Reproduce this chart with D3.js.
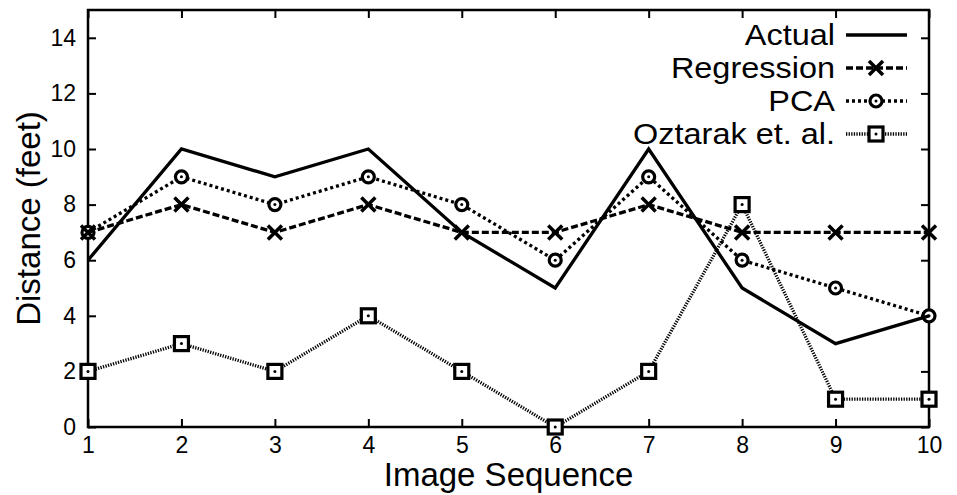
<!DOCTYPE html>
<html>
<head>
<meta charset="utf-8">
<script src="https://cdn.jsdelivr.net/npm/d3@7"></script>
<style>
  html, body { margin: 0; padding: 0; background: #fff; }
  svg { display: block; font-family: "Liberation Sans", Arial, sans-serif; }
</style>
</head>
<body>
<svg id="chart" width="957" height="495"></svg>
<script>
// Distance estimates per image in the sequence
const frames = [1, 2, 3, 4, 5, 6, 7, 8, 9, 10];
const actual = [6, 10, 9, 10, 7, 5, 10, 5, 3, 4];
const regression = [7, 8, 7, 8, 7, 7, 8, 7, 7, 7];
const pca = [7, 9, 8, 9, 8, 6, 9, 6, 5, 4];
const oztarak = [2, 3, 2, 4, 2, 0, 2, 8, 1, 1];
const yTicks = [0, 2, 4, 6, 8, 10, 12, 14];
const seriesNames = ["Actual", "Regression", "PCA", "Oztarak et. al."];

const series = [
  { name: seriesNames[0], values: actual, dash: null, marker: null },
  { name: seriesNames[1], values: regression, dash: "7,3", marker: "cross" },
  { name: seriesNames[2], values: pca, dash: "3,3", marker: "circle" },
  { name: seriesNames[3], values: oztarak, dash: "1.3,1.3", marker: "square" }
];

const svg = d3.select("#chart");
const m = { left: 88, right: 28, top: 10, bottom: 68 };
const W = 957, H = 495;

const x = d3.scaleLinear().domain([1, 10]).range([m.left, W - m.right]);
const y = d3.scaleLinear().domain([0, 15]).range([H - m.bottom, m.top]);

const tickLen = 8;

// Axes with inward ticks on all four sides
const gLeft = svg.append("g").attr("transform", `translate(${m.left},0)`)
  .call(d3.axisLeft(y).tickValues(yTicks).tickSize(-tickLen).tickPadding(12).tickFormat(d3.format("d")));
const gRight = svg.append("g").attr("transform", `translate(${W - m.right},0)`)
  .call(d3.axisRight(y).tickValues(yTicks).tickSize(-tickLen).tickFormat(""));
const gBottom = svg.append("g").attr("transform", `translate(0,${H - m.bottom})`)
  .call(d3.axisBottom(x).tickValues(frames).tickSize(-tickLen).tickPadding(10).tickFormat(d3.format("d")));
const gTop = svg.append("g").attr("transform", `translate(0,${m.top})`)
  .call(d3.axisTop(x).tickValues(frames).tickSize(-tickLen).tickFormat(""));

[gLeft, gRight, gBottom, gTop].forEach(g => {
  g.select(".domain").remove();
  g.selectAll(".tick line").attr("stroke", "#000").attr("stroke-width", 2);
  g.selectAll(".tick text").attr("fill", "#000").style("font-size", "23px")
    .style("font-family", "'Liberation Sans', Arial, sans-serif");
});

// Plot frame
svg.append("rect")
  .attr("x", m.left).attr("y", m.top)
  .attr("width", W - m.right - m.left).attr("height", H - m.bottom - m.top)
  .attr("fill", "none").attr("stroke", "#000").attr("stroke-width", 2.5);

// Axis titles
svg.append("text")
  .attr("x", (m.left + W - m.right) / 2).attr("y", 486)
  .attr("text-anchor", "middle").style("font-size", "33px").text("Image Sequence");
svg.append("text")
  .attr("transform", `translate(40,${(m.top + H - m.bottom) / 2}) rotate(-90)`)
  .attr("text-anchor", "middle").style("font-size", "33px").text("Distance (feet)");

function drawMarker(g, type, cx, cy) {
  if (type === "cross") {
    const s = 7;
    g.append("path")
      .attr("d", `M${cx - s},${cy - s}L${cx + s},${cy + s}M${cx - s},${cy + s}L${cx + s},${cy - s}`)
      .attr("stroke", "#000").attr("stroke-width", 3.5).attr("fill", "none");
  } else if (type === "circle") {
    g.append("circle").attr("cx", cx).attr("cy", cy).attr("r", 6)
      .attr("fill", "#fff").attr("stroke", "#000").attr("stroke-width", 3.2);
    g.append("circle").attr("cx", cx).attr("cy", cy).attr("r", 1.5).attr("fill", "#000");
  } else if (type === "square") {
    g.append("rect").attr("x", cx - 7).attr("y", cy - 7).attr("width", 14).attr("height", 14)
      .attr("fill", "#fff").attr("stroke", "#000").attr("stroke-width", 3.2);
    g.append("circle").attr("cx", cx).attr("cy", cy).attr("r", 1.5).attr("fill", "#000");
  }
}

const line = d3.line().x((d, i) => x(frames[i])).y(d => y(d));

// Draw series back-to-front so the solid line sits on top
const plot = svg.append("g");
series.slice().reverse().forEach(s => {
  const g = plot.append("g");
  g.append("path").datum(s.values)
    .attr("d", line)
    .attr("fill", "none").attr("stroke", "#000")
    .attr("stroke-width", 3.3)
    .attr("stroke-dasharray", s.dash);
  if (s.marker) {
    s.values.forEach((v, i) => drawMarker(g, s.marker, x(frames[i]), y(v)));
  }
});

// Legend: compact rows, labels widened slightly so they stay legible
const legend = svg.append("g");
series.forEach((s, i) => {
  const ly = 35 + i * 33;
  legend.append("text")
    .attr("transform", `translate(835,${ly + 10}) scale(1.1,1)`)
    .attr("text-anchor", "end").style("font-size", "29.5px").text(s.name);
  legend.append("line")
    .attr("x1", 846).attr("x2", 907).attr("y1", ly).attr("y2", ly)
    .attr("stroke", "#000").attr("stroke-width", 3.3)
    .attr("stroke-dasharray", s.dash);
  if (s.marker) drawMarker(legend, s.marker, 876, ly);
});
</script>
</body>
</html>
